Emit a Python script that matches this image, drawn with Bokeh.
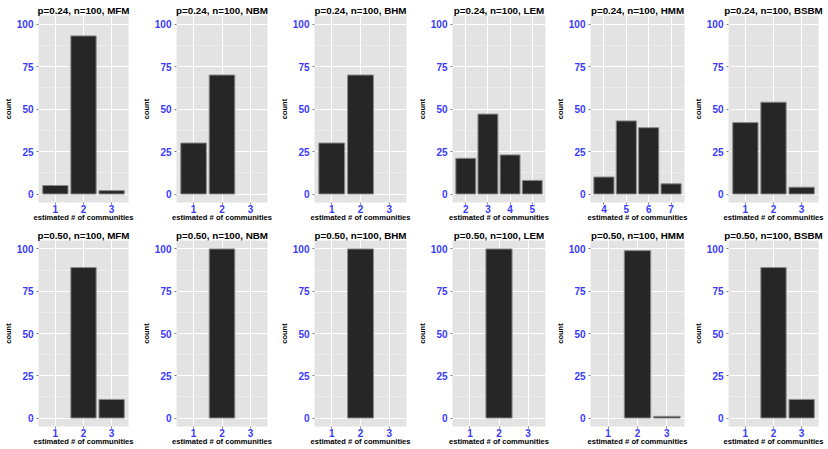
from bokeh.plotting import figure
from bokeh.layouts import gridplot
from bokeh.models import FixedTicker, Range1d, ColumnDataSource
from bokeh.embed import file_html
from bokeh.resources import INLINE

# ---------------- data ----------------
methods = ["MFM", "NBM", "BHM", "LEM", "HMM", "BSBM"]
p_values = ["0.24", "0.50"]
n_value = 100

# p = 0.24
x_024_mfm = [1, 2, 3];    y_024_mfm = [5, 93, 2]
x_024_nbm = [1, 2, 3];    y_024_nbm = [30, 70, 0]
x_024_bhm = [1, 2, 3];    y_024_bhm = [30, 70, 0]
x_024_lem = [2, 3, 4, 5]; y_024_lem = [21, 47, 23, 8]
x_024_hmm = [4, 5, 6, 7]; y_024_hmm = [10, 43, 39, 6]
x_024_bsbm = [1, 2, 3];   y_024_bsbm = [42, 54, 4]

# p = 0.50
x_050_mfm = [1, 2, 3];    y_050_mfm = [0, 89, 11]
x_050_nbm = [1, 2, 3];    y_050_nbm = [0, 100, 0]
x_050_bhm = [1, 2, 3];    y_050_bhm = [0, 100, 0]
x_050_lem = [1, 2, 3];    y_050_lem = [0, 100, 0]
x_050_hmm = [1, 2, 3];    y_050_hmm = [0, 99, 1]
x_050_bsbm = [1, 2, 3];   y_050_bsbm = [0, 89, 11]

y_ticks = [0, 25, 50, 75, 100]
y_minor = [12.5, 37.5, 62.5, 87.5]

rows_data = [
    [(x_024_mfm, y_024_mfm), (x_024_nbm, y_024_nbm), (x_024_bhm, y_024_bhm),
     (x_024_lem, y_024_lem), (x_024_hmm, y_024_hmm), (x_024_bsbm, y_024_bsbm)],
    [(x_050_mfm, y_050_mfm), (x_050_nbm, y_050_nbm), (x_050_bhm, y_050_bhm),
     (x_050_lem, y_050_lem), (x_050_hmm, y_050_hmm), (x_050_bsbm, y_050_bsbm)],
]

# ---------------- style ----------------
FONT = "Liberation Sans"
BLUE = "#3A3AFF"
BG = "#E3E3E3"
W, H = 138, 224
lefts = [33, 35, 36, 37, 37, 38]
frame_w = [95, 94, 94, 94, 95, 90]
tops = [15, 16]


def panel(title, xs, ys, row, col):
    left = lefts[col]
    right = W - left - frame_w[col]
    fig = figure(width=W, height=H, output_backend="svg", toolbar_location=None,
                 x_range=Range1d(min(xs) - 0.6, max(xs) + 0.6),
                 y_range=Range1d(-5, 105),
                 min_border_left=left, min_border_right=right,
                 min_border_top=tops[row], min_border_bottom=18,
                 background_fill_color=BG, border_fill_color="white",
                 outline_line_color=None)
    fig.title.text = title
    fig.title.align = "center"
    fig.title.text_font = FONT
    fig.title.text_font_size = "9.8px"
    fig.title.text_font_style = "bold"
    fig.title.text_color = "black"
    fig.title.standoff = 0
    fig.title.offset = 0

    bx = [x for x, y in zip(xs, ys) if y > 0]
    by = [y for y in ys if y > 0]
    src = ColumnDataSource(dict(x=bx, top=by))
    fig.vbar(x="x", top="top", bottom=0, width=0.9, source=src,
             fill_color="#262626", line_color="#8A8A8A", line_width=1)

    xt = FixedTicker(ticks=list(xs))
    yt = FixedTicker(ticks=y_ticks, minor_ticks=y_minor)
    fig.xaxis.ticker = xt
    fig.yaxis.ticker = yt
    fig.xgrid.ticker = xt
    fig.ygrid.ticker = yt
    fig.xgrid.grid_line_color = "white"
    fig.ygrid.grid_line_color = "white"
    fig.xgrid.grid_line_width = 1
    fig.ygrid.grid_line_width = 1
    fig.ygrid.minor_grid_line_color = "#F1F1F1"
    fig.ygrid.minor_grid_line_width = 0.6

    for ax in (fig.xaxis[0], fig.yaxis[0]):
        ax.axis_line_color = None
        ax.major_tick_line_color = "#7F7F7F"
        ax.major_tick_out = 2
        ax.major_tick_in = 0
        ax.minor_tick_line_color = None
        ax.major_label_text_font = FONT
        ax.major_label_text_font_size = "10px"
        ax.major_label_text_font_style = "bold"
        ax.major_label_text_color = BLUE
        ax.major_label_standoff = 1
        ax.axis_label_text_font = FONT
        ax.axis_label_text_font_style = "bold"
        ax.axis_label_text_color = "black"
        ax.axis_label_standoff = 1
    fig.xaxis.axis_label = "estimated # of communities"
    fig.xaxis.axis_label_text_font_size = "7.6px"
    fig.yaxis.axis_label = "count"
    fig.yaxis.axis_label_text_font_size = "7.5px"
    fig.xaxis.major_label_standoff = 0
    fig.xaxis.axis_label_standoff = -3
    return fig


figs = []
for r, pv in enumerate(p_values):
    for c, m in enumerate(methods):
        xs, ys = rows_data[r][c]
        figs.append(panel(f"p={pv}, n={n_value}, {m}", xs, ys, r, c))

grid = gridplot(figs, ncols=6, toolbar_location=None)

open("out.html", "w").write(file_html(grid, INLINE))
